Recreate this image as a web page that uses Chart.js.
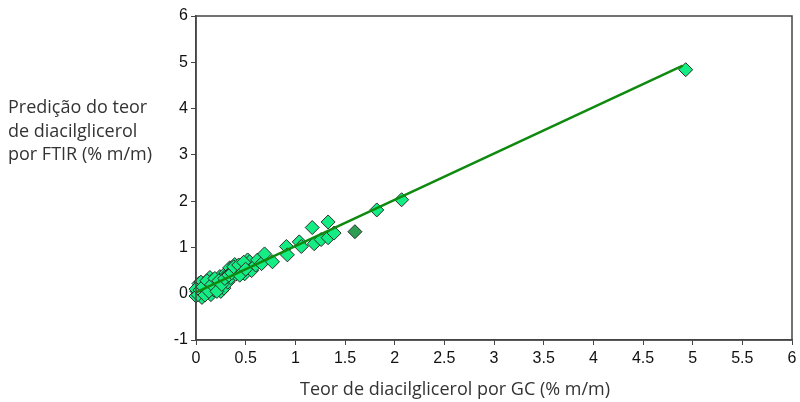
<!DOCTYPE html>
<html>
<head>
<meta charset="utf-8">
<script src="https://cdn.jsdelivr.net/npm/chart.js@4/dist/chart.umd.min.js"></script>
<style>
  html, body { margin: 0; padding: 0; background: #fff; }
  #wrap { position: relative; width: 800px; height: 402px; }
</style>
</head>
<body>
<div id="wrap"><canvas id="chart" width="800" height="402"></canvas></div>
<script>
// GC reference value (x) vs FTIR prediction (y), % m/m
const gcValues = [
  0.00, 0.01, 0.02, 0.03, 0.05, 0.06, 0.08, 0.10, 0.12, 0.14,
  0.15, 0.17, 0.18, 0.20, 0.22, 0.24, 0.25, 0.27, 0.28, 0.30,
  0.31, 0.32, 0.34, 0.35, 0.37, 0.39, 0.40, 0.42, 0.45, 0.47,
  0.49, 0.51, 0.52, 0.54, 0.56, 0.60, 0.62, 0.66, 0.69, 0.77,
  0.91, 0.92, 1.04, 1.06, 1.17, 1.19, 1.26, 1.33, 1.33, 1.39,
  1.82, 2.07, 4.93,
  0.00, 0.02, 0.04, 0.07, 0.09, 0.11, 0.13, 0.16, 0.19, 0.21,
  0.23, 0.26, 0.29, 0.33, 0.36, 0.38, 0.43, 0.44, 0.48, 0.50
];
const ftirValues = [
  -0.05, 0.05, 0.12, 0.22, 0.25, -0.08, 0.02, 0.18, 0.10, 0.35,
  -0.02, 0.30, 0.08, 0.22, 0.15, 0.37, 0.05, 0.28, 0.12, 0.45,
  0.41, 0.25, 0.56, 0.35, 0.50, 0.63, 0.42, 0.55, 0.48, 0.60,
  0.43, 0.58, 0.73, 0.69, 0.50, 0.62, 0.73, 0.65, 0.86, 0.69,
  1.02, 0.84, 1.12, 1.02, 1.43, 1.08, 1.17, 1.21, 1.55, 1.31,
  1.81, 2.03, 4.84,
  0.10, -0.02, 0.08, 0.15, -0.03, 0.28, 0.05, 0.20, 0.33, 0.05,
  0.28, 0.20, 0.33, 0.40, 0.45, 0.58, 0.62, 0.40, 0.68, 0.53
];
// sample set apart from the others
const outlierGc = [1.60];
const outlierFtir = [1.34];
// fitted regression line
const fitX = [0, 4.90];
const fitY = [0.03, 4.93];

const xTicks = [0, 0.5, 1, 1.5, 2, 2.5, 3, 3.5, 4, 4.5, 5, 5.5, 6];
const yTitleLines = ['Predição do teor', 'de diacilglicerol', 'por FTIR (% m/m)'];
const xTitle = 'Teor de diacilglicerol por GC (% m/m)';

const toPoints = (xs, ys) => xs.map((x, i) => ({ x: x, y: ys[i] }));
const tickFont = { family: '"Liberation Sans Narrow", "Liberation Sans"', size: 16 };

// full frame around the plot area plus both axis titles
const framePlugin = {
  id: 'frame',
  afterDraw(chart) {
    const { ctx, chartArea: a } = chart;
    ctx.save();
    ctx.strokeStyle = '#444';
    ctx.lineWidth = 1.5;
    ctx.strokeRect(a.left, a.top, a.right - a.left, a.bottom - a.top);
    ctx.fillStyle = '#333';
    ctx.font = '18px "Open Sans"';
    ctx.textBaseline = 'middle';
    ctx.textAlign = 'left';
    yTitleLines.forEach((t, i) => ctx.fillText(t, 8, 108 + i * 23.5));
    ctx.textAlign = 'center';
    ctx.fillText(xTitle, 455, 390);
    ctx.restore();
  }
};

new Chart(document.getElementById('chart'), {
  type: 'scatter',
  data: {
    datasets: [
      {
        type: 'line',
        data: toPoints(fitX, fitY),
        borderColor: '#0f8a0f',
        borderWidth: 2.5,
        pointRadius: 0,
        fill: false,
        order: 0
      },
      {
        data: toPoints(gcValues, ftirValues),
        pointStyle: 'rectRot',
        pointRadius: 7,
        backgroundColor: '#14ec84',
        borderColor: '#2b2b2b',
        borderWidth: 1,
        clip: false,
        order: 1
      },
      {
        data: toPoints(outlierGc, outlierFtir),
        pointStyle: 'rectRot',
        pointRadius: 7,
        backgroundColor: '#2f9e52',
        borderColor: '#2b2b2b',
        borderWidth: 1,
        clip: false,
        order: 1
      }
    ]
  },
  options: {
    responsive: false,
    animation: false,
    layout: { padding: { top: 16, right: 5, left: 0, bottom: 0 } },
    plugins: { legend: { display: false }, tooltip: { enabled: false } },
    scales: {
      x: {
        type: 'linear',
        min: 0,
        max: 6,
        afterBuildTicks: (s) => { s.ticks = xTicks.map(v => ({ value: v })); },
        ticks: { color: '#111', font: tickFont, padding: 4, maxRotation: 0, callback: (v) => String(v) },
        grid: { drawOnChartArea: false, drawTicks: true, tickLength: 5, color: '#444' },
        border: { color: '#444', width: 1.5 },
        afterFit: (s) => { s.height = 62; s.paddingRight = 0; s.paddingLeft = 0; }
      },
      y: {
        type: 'linear',
        min: -1,
        max: 6,
        ticks: { stepSize: 1, color: '#111', font: tickFont, padding: 3, callback: (v) => String(v) },
        grid: { drawOnChartArea: false, drawTicks: true, tickLength: 5, color: '#444' },
        border: { color: '#444', width: 1.5 },
        afterFit: (s) => { s.width = 196; }
      }
    }
  },
  plugins: [framePlugin]
});
</script>
</body>
</html>
